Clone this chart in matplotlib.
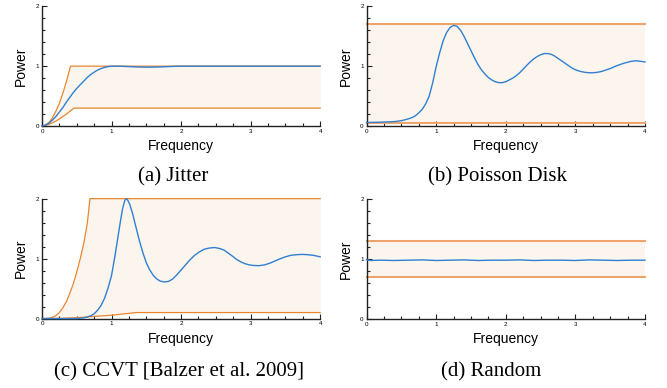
import matplotlib
matplotlib.use("Agg")
import matplotlib.pyplot as plt
from matplotlib.ticker import MultipleLocator

plt.rcParams["font.family"] = ["Liberation Sans", "DejaVu Sans"]

BLUE = "#2f7fd2"
ORANGE = "#e8862e"
ORANGE_LIGHT = "#eca46a"
FILL = "#fcf5ee"

# (a) Jitter
jit_bound_f = [0, 0.05, 0.1, 0.15, 0.2, 0.25, 0.3, 0.35, 0.41, 0.46, 4.0]
jit_upper = [0, 0.015, 0.06, 0.14, 0.25, 0.38, 0.55, 0.74, 1.0, 1.0, 1.0]
jit_lower = [0, 0.01, 0.03, 0.055, 0.085, 0.12, 0.16, 0.2, 0.255, 0.3, 0.3]
jit_f = [0, 0.05, 0.1, 0.15, 0.2, 0.25, 0.3, 0.35, 0.4, 0.45, 0.5, 0.55, 0.6,
         0.65, 0.7, 0.75, 0.8, 0.85, 0.9, 0.95, 1.0, 1.1, 1.2, 1.3, 1.4, 1.5,
         1.6, 1.7, 1.8, 1.9, 2.0, 3.0, 4.0]
jit_p = [0, 0.02, 0.05, 0.1, 0.16, 0.235, 0.31, 0.4, 0.48, 0.56, 0.63, 0.69,
         0.75, 0.81, 0.86, 0.9, 0.935, 0.96, 0.98, 0.992, 0.998, 1.0, 0.995,
         0.99, 0.985, 0.983, 0.984, 0.987, 0.992, 0.997, 1.0, 1.0, 1.0]

# (b) Poisson Disk
pd_bound_f = [0, 4.0]
pd_upper = [1.7, 1.7]
pd_lower = [0.045, 0.045]
pd_f = [0, 0.2, 0.4, 0.5, 0.6, 0.65, 0.7, 0.75, 0.8, 0.85, 0.9, 0.95, 1.0,
        1.05, 1.1, 1.15, 1.2, 1.25, 1.3, 1.35, 1.4, 1.45, 1.5, 1.55, 1.6, 1.65,
        1.7, 1.75, 1.8, 1.85, 1.9, 1.95, 2.0, 2.05, 2.1, 2.15, 2.2, 2.25, 2.3,
        2.35, 2.4, 2.45, 2.5, 2.55, 2.6, 2.65, 2.7, 2.75, 2.8, 2.85, 2.9, 2.95,
        3.0, 3.05, 3.1, 3.15, 3.2, 3.25, 3.3, 3.35, 3.4, 3.5, 3.6, 3.7, 3.8,
        3.87, 3.94, 4.0]
pd_p = [0.06, 0.065, 0.075, 0.09, 0.12, 0.14, 0.17, 0.22, 0.28, 0.37, 0.5,
        0.72, 0.99, 1.22, 1.42, 1.56, 1.645, 1.68, 1.665, 1.6, 1.5, 1.38, 1.26,
        1.14, 1.03, 0.94, 0.87, 0.81, 0.77, 0.74, 0.725, 0.725, 0.74, 0.77, 0.8,
        0.84, 0.89, 0.95, 1.01, 1.07, 1.12, 1.16, 1.19, 1.21, 1.21, 1.2, 1.17,
        1.13, 1.09, 1.05, 1.01, 0.97, 0.94, 0.92, 0.905, 0.895, 0.89, 0.89,
        0.895, 0.905, 0.92, 0.96, 1.01, 1.05, 1.08, 1.09, 1.08, 1.07]

# (c) CCVT
cc_bound_f = [0, 0.1, 0.15, 0.2, 0.25, 0.3, 0.35, 0.4, 0.45, 0.5, 0.55, 0.6,
              0.65, 0.69, 1.0, 1.35, 4.0]
cc_upper = [0, 0.005, 0.02, 0.05, 0.1, 0.18, 0.28, 0.42, 0.58, 0.78, 1.0,
            1.25, 1.58, 2.0, 2.0, 2.0, 2.0]
cc_lower = [0, 0, 0.001, 0.002, 0.003, 0.005, 0.007, 0.01, 0.012, 0.015,
            0.018, 0.022, 0.026, 0.031, 0.055, 0.1, 0.1]
cc_f = [0, 0.5, 0.6, 0.7, 0.75, 0.8, 0.85, 0.9, 0.95, 1.0, 1.05, 1.1, 1.13,
        1.16, 1.19, 1.21, 1.23, 1.26, 1.3, 1.35, 1.4, 1.45, 1.5, 1.55, 1.6,
        1.65, 1.7, 1.76, 1.82, 1.88, 1.94, 2.0, 2.06, 2.12, 2.19, 2.26, 2.33,
        2.4, 2.48, 2.55, 2.62, 2.68, 2.74, 2.8, 2.86, 2.92, 2.98, 3.05, 3.12,
        3.2, 3.28, 3.35, 3.42, 3.5, 3.58, 3.66, 3.74, 3.82, 3.9, 4.0]
cc_p = [0, 0.0, 0.01, 0.045, 0.08, 0.14, 0.22, 0.34, 0.51, 0.72, 1.05, 1.42,
        1.64, 1.84, 1.97, 2.0, 1.98, 1.91, 1.76, 1.53, 1.3, 1.1, 0.93, 0.81,
        0.72, 0.66, 0.625, 0.61, 0.62, 0.66, 0.73, 0.81, 0.89, 0.97, 1.05,
        1.11, 1.155, 1.175, 1.185, 1.17, 1.14, 1.09, 1.04, 0.985, 0.945, 0.915,
        0.895, 0.885, 0.882, 0.895, 0.925, 0.96, 0.995, 1.03, 1.055, 1.065,
        1.07, 1.065, 1.055, 1.03]

# (d) Random
rnd_bound_f = [0, 4.0]
rnd_upper = [1.3, 1.3]
rnd_lower = [0.7, 0.7]
rnd_f = [0, 0.05, 0.2, 0.4, 0.6, 0.8, 1.0, 1.2, 1.4, 1.6, 1.8, 2.0, 2.2, 2.4,
         2.6, 2.8, 3.0, 3.2, 3.4, 3.6, 3.8, 4.0]
rnd_p = [0.99, 0.975, 0.98, 0.975, 0.98, 0.985, 0.975, 0.98, 0.985, 0.975,
         0.98, 0.98, 0.985, 0.975, 0.98, 0.98, 0.975, 0.985, 0.98, 0.975, 0.98,
         0.98]

panels = [
    ("(a) Jitter", jit_bound_f, jit_upper, jit_lower, jit_f, jit_p, False),
    ("(b) Poisson Disk", pd_bound_f, pd_upper, pd_lower, pd_f, pd_p, True),
    ("(c) CCVT [Balzer et al. 2009]", cc_bound_f, cc_upper, cc_lower, cc_f, cc_p, False),
    ("(d) Random", rnd_bound_f, rnd_upper, rnd_lower, rnd_f, rnd_p, True),
]

# axes rectangles (fig fraction) and caption centres (fig fraction)
rects = [
    [0.063, 0.675, 0.417, 0.309],
    [0.5495, 0.675, 0.4175, 0.309],
    [0.063, 0.179, 0.417, 0.309],
    [0.5495, 0.178, 0.4175, 0.309],
]
captions_xy = [(0.259, 0.544), (0.746, 0.544), (0.268, 0.042), (0.736, 0.042)]

fig = plt.figure(figsize=(6.67, 3.88), dpi=100)

for (title, bf, up, lo, f, p, flat), rect, cxy in zip(panels, rects, captions_xy):
    ax = fig.add_axes(rect)
    ax.fill_between(bf, lo, up, color=FILL, lw=0)
    ax.plot(f, p, color=BLUE, lw=1.0, zorder=3, clip_on=False)
    oc, olw = (ORANGE_LIGHT, 1.5) if flat else (ORANGE, 0.9)
    ax.plot(bf, up, color=oc, lw=olw, zorder=2, clip_on=False)
    ax.plot(bf, lo, color=oc, lw=olw, zorder=2, clip_on=False)

    ax.set_xlim(0, 4)
    ax.set_ylim(0, 2)
    ax.xaxis.set_major_locator(MultipleLocator(1))
    ax.xaxis.set_minor_locator(MultipleLocator(0.25))
    ax.yaxis.set_major_locator(MultipleLocator(1))
    ax.yaxis.set_minor_locator(MultipleLocator(0.2))
    ax.tick_params(which="both", direction="in", labelsize=4.5, pad=2,
                   width=0.8, color="#222222")
    ax.tick_params(which="major", length=3.5)
    ax.tick_params(which="minor", length=2)
    for s in ("top", "right"):
        ax.spines[s].set_visible(False)
    for s in ("left", "bottom"):
        ax.spines[s].set_linewidth(1.0)
        ax.spines[s].set_color("#222222")

    ax.set_xlabel("Frequency", fontsize=10)
    ax.set_ylabel("Power", fontsize=10)
    ax.xaxis.set_label_coords(0.5, -0.11)
    ax.yaxis.set_label_coords(-0.05, 0.5)

    fig.text(cxy[0], cxy[1], title, ha="center", va="center", fontsize=15,
             family=["Liberation Serif", "DejaVu Serif"])

fig.savefig("out.png", dpi=100)
